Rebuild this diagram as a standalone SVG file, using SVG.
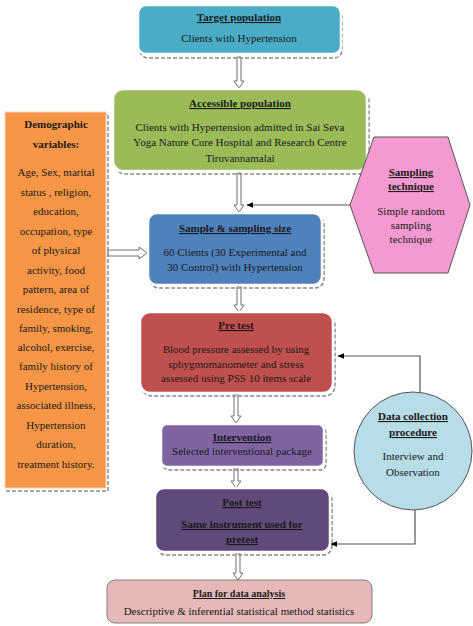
<svg xmlns="http://www.w3.org/2000/svg" width="473" height="626" viewBox="0 0 473 626">
<defs>
<marker id="ah" viewBox="0 0 10 10" refX="9" refY="5" markerWidth="7" markerHeight="7" orient="auto" markerUnits="userSpaceOnUse"><path d="M0,1 L10,5 L0,9 Z" fill="#000"/></marker>
</defs>
<style>
text{font-family:"Liberation Serif","Times New Roman",serif;font-size:11px;fill:#1a1a1a;text-anchor:middle}
.t{font-weight:bold;text-decoration:underline}
.sh{fill:none;stroke:#8a8a8a;stroke-width:1.5;stroke-dasharray:4 2}
.bx{stroke:#ffffff;stroke-width:2.5}
.ha{fill:#fff;stroke:#6f6f6f;stroke-width:1}
.ln{fill:none;stroke:#555;stroke-width:1.2}
</style>
<g id="connectors">
<path class="ha" d="M237,57 L237,81 L234,81 L239,88 L244,81 L241,81 L241,57 Z"/>
<path class="ha" d="M237,173 L237,205 L234,205 L239,212 L244,205 L241,205 L241,173 Z"/>
<path class="ha" d="M237,286 L237,305 L234,305 L239,312 L244,305 L241,305 L241,286 Z"/>
<path class="ha" d="M234,394 L234,416 L231,416 L236,423 L241,416 L238,416 L238,394 Z"/>
<path class="ha" d="M234,468 L234,481 L231,481 L236,488 L241,481 L238,481 L238,468 Z"/>
<path class="ha" d="M236,553 L236,573 L233,573 L238,580 L243,573 L240,573 L240,553 Z"/>
<path class="ha" d="M108,250 L139,250 L139,247 L147,253 L139,259 L139,256 L108,256 Z"/>
<path class="ln" d="M350,205 L247,205" marker-end="url(#ah)"/>
<path class="ln" d="M420,393 L420,356 L338,356" marker-end="url(#ah)"/>
<path class="ln" d="M415,510 L415,544 L331,544" marker-end="url(#ah)"/>
</g>
<g id="target">
<rect class="sh" x="140" y="8" width="202" height="50" rx="8"/>
<rect class="bx" x="138" y="5" width="203" height="49" rx="8" fill="#4BACC6"/>
<text class="t" x="239" y="21">Target population</text>
<text x="239" y="42">Clients with Hypertension</text>
</g>
<g id="accessible">
<rect class="sh" x="115" y="92" width="254" height="82" rx="10"/>
<rect class="bx" x="113" y="89" width="254" height="82" rx="10" fill="#9BBB59"/>
<text class="t" x="240" y="107">Accessible population</text>
<text x="240" y="131">Clients with Hypertension admitted in Sai Seva</text>
<text x="240" y="146">Yoga Nature Cure Hospital and Research Centre</text>
<text x="240" y="162">Tiruvannamalai</text>
</g>
<g id="demographic">
<rect class="sh" x="7" y="114" width="101" height="377"/>
<rect x="5" y="112" width="101" height="376" fill="#F79646" stroke="#f3d3b8" stroke-width="1"/>
<text class="t" x="56" y="128" style="text-decoration:none">Demographic</text>
<text class="t" x="56" y="148" style="text-decoration:none">variables:</text>
<text x="56" y="176">Age, Sex, marital</text>
<text x="56" y="196">status , religion,</text>
<text x="56" y="215">education,</text>
<text x="56" y="235">occupation, type</text>
<text x="56" y="254">of physical</text>
<text x="56" y="274">activity, food</text>
<text x="56" y="293">pattern, area of</text>
<text x="56" y="313">residence, type of</text>
<text x="56" y="332">family, smoking,</text>
<text x="56" y="351">alcohol, exercise,</text>
<text x="56" y="370">family history of</text>
<text x="56" y="390">Hypertension,</text>
<text x="56" y="409">associated illness,</text>
<text x="56" y="429">Hypertension</text>
<text x="56" y="448">duration,</text>
<text x="56" y="468">treatment history.</text>
</g>
<g id="sampling-technique">
<polygon points="350,205 374,137 448,137 470,205 448,273 374,273" fill="#F49AD0" stroke="#555" stroke-width="1"/>
<text class="t" x="411" y="176">Sampling</text>
<text class="t" x="411" y="190">technique</text>
<text x="411" y="215">Simple random</text>
<text x="411" y="229">sampling</text>
<text x="411" y="243">technique</text>
</g>
<g id="sample">
<rect class="sh" x="150" y="216" width="174" height="72" rx="9"/>
<rect class="bx" x="148" y="213" width="174" height="72" rx="9" fill="#4F81BD"/>
<text class="t" x="235" y="232">Sample &amp; sampling size</text>
<text x="235" y="256">60 Clients (30 Experimental and</text>
<text x="235" y="271">30 Control) with Hypertension</text>
</g>
<g id="pretest">
<rect class="sh" x="142" y="315" width="193" height="81" rx="10"/>
<rect class="bx" x="140" y="312" width="193" height="81" rx="10" fill="#C0504D"/>
<text class="t" x="236" y="329">Pre test</text>
<text x="236" y="353">Blood pressure assessed by using</text>
<text x="236" y="368">sphygmomanometer and stress</text>
<text x="236" y="382">assessed using PSS 10 items scale</text>
</g>
<g id="intervention">
<rect class="sh" x="163" y="427" width="163" height="43" rx="6"/>
<rect class="bx" x="161" y="424" width="163" height="43" rx="6" fill="#8064A2"/>
<text class="t" x="242" y="441">Intervention</text>
<text x="242" y="455">Selected interventional package</text>
</g>
<g id="posttest">
<rect class="sh" x="157" y="491" width="175" height="64" rx="9"/>
<rect class="bx" x="155" y="488" width="175" height="64" rx="9" fill="#604A7B"/>
<text class="t" x="242" y="506">Post test</text>
<text class="t" x="242" y="528">Same instrument used for</text>
<text class="t" x="242" y="543">pretest</text>
</g>
<g id="data-collection">
<circle cx="413" cy="451" r="59" fill="#B7DDE8" stroke="#555" stroke-width="1"/>
<text class="t" x="413" y="420">Data collection</text>
<text class="t" x="413" y="436">procedure</text>
<text x="413" y="460">Interview and</text>
<text x="413" y="476">Observation</text>
</g>
<g id="plan">
<rect x="107" y="580" width="265" height="43" rx="8" fill="#E6B9B8" stroke="#7f7f7f" stroke-width="1"/>
<text class="t" x="239" y="597" style="font-size:10px">Plan for data analysis</text>
<text x="239" y="615">Descriptive &amp; inferential statistical method statistics</text>
</g>
</svg>
